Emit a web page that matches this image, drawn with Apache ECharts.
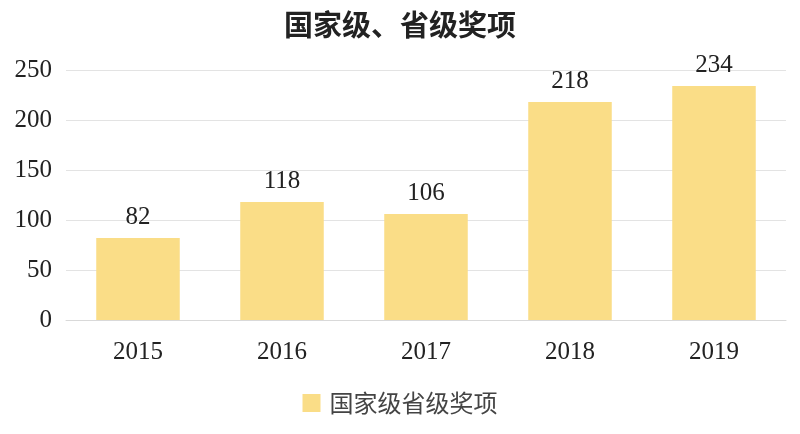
<!DOCTYPE html>
<html>
<head>
<meta charset="utf-8">
<script src="https://cdn.jsdelivr.net/npm/echarts@6/dist/echarts.min.js"></script>
<style>html,body{margin:0;padding:0;background:#fff;}#c{width:800px;height:434px;}</style>
</head>
<body>
<div id="c"></div>
<script>
const titleText = '国家级、省级奖项';
const seriesName = '国家级省级奖项';
const categories = ['2015', '2016', '2017', '2018', '2019'];
const values = [82, 118, 106, 218, 234];
const yTicks = [0, 50, 100, 150, 200, 250];

const serif = '"Liberation Serif", "Times New Roman", serif';
const chart = echarts.init(document.getElementById('c'));
chart.setOption({
  animation: false,
  backgroundColor: '#ffffff',
  title: {
    text: titleText,
    left: 'center',
    top: 5,
    textStyle: { fontFamily: '"Noto Sans CJK SC"', fontWeight: 'bold', fontSize: 29, color: '#222' }
  },
  legend: {
    data: [seriesName],
    bottom: 14,
    left: 'center',
    itemWidth: 18,
    itemHeight: 18,
    icon: 'rect',
    itemGap: 10,
    textStyle: { fontFamily: '"Noto Sans CJK SC"', fontSize: 24, color: '#444', padding: [0, 0, 0, 4] }
  },
  grid: { left: 66, right: 14, top: 70, bottom: 114 },
  xAxis: {
    type: 'category',
    data: categories,
    axisLine: { lineStyle: { color: '#d9d9d9' } },
    axisTick: { show: false },
    axisLabel: { fontFamily: serif, fontSize: 25, color: '#222', margin: 20 }
  },
  yAxis: {
    type: 'value',
    min: yTicks[0],
    max: yTicks[yTicks.length - 1],
    interval: 50,
    axisLine: { show: false },
    axisTick: { show: false },
    splitLine: { lineStyle: { color: '#e3e3e3' } },
    axisLabel: { fontFamily: serif, fontSize: 25, color: '#222', margin: 14 }
  },
  series: [{
    name: seriesName,
    type: 'bar',
    data: values,
    barWidth: '58%',
    itemStyle: { color: '#FADD87' },
    label: { show: true, position: 'top', distance: 8, fontFamily: serif, fontSize: 25, color: '#222' }
  }]
});
</script>
</body>
</html>
